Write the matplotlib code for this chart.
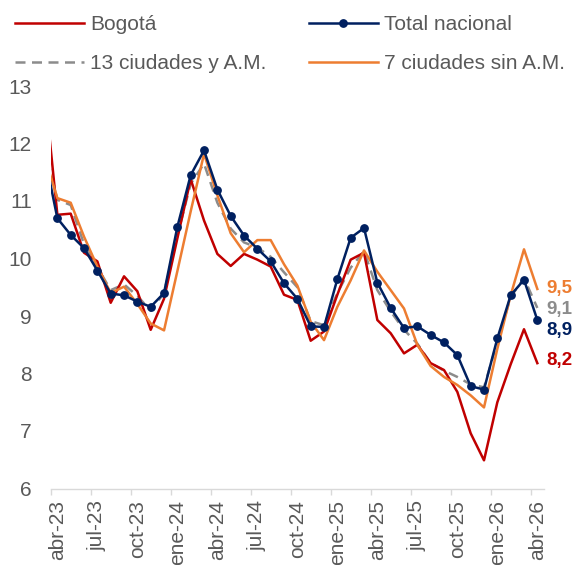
import matplotlib
matplotlib.use('Agg')
import matplotlib.pyplot as plt
from matplotlib.lines import Line2D
import numpy as np

plt.rcParams['font.family'] = ['Liberation Sans', 'DejaVu Sans']

months = ['mar-23', 'abr-23', 'may-23', 'jun-23', 'jul-23', 'ago-23', 'sep-23', 'oct-23',
          'nov-23', 'dic-23', 'ene-24', 'feb-24', 'mar-24', 'abr-24', 'may-24', 'jun-24',
          'jul-24', 'ago-24', 'sep-24', 'oct-24', 'nov-24', 'dic-24', 'ene-25', 'feb-25',
          'mar-25', 'abr-25', 'may-25', 'jun-25', 'jul-25', 'ago-25', 'sep-25', 'oct-25',
          'nov-25', 'dic-25', 'ene-26', 'feb-26', 'mar-26', 'abr-26']

bogota = [13.06, 10.76, 10.78, 10.10, 9.95, 9.23, 9.69, 9.43, 8.76, 9.30, 10.35, 11.38,
          10.66, 10.08, 9.87, 10.08, 9.98, 9.86, 9.37, 9.28, 8.57, 8.73, 9.37, 9.98, 10.10,
          8.93, 8.70, 8.35, 8.50, 8.18, 8.06, 7.68, 6.96, 6.49, 7.50, 8.16, 8.77, 8.18]

total_nacional = [11.84, 10.70, 10.41, 10.18, 9.79, 9.39, 9.36, 9.25, 9.16, 9.40, 10.55,
                  11.45, 11.88, 11.20, 10.74, 10.40, 10.17, 9.95, 9.57, 9.30, 8.82, 8.81,
                  9.64, 10.36, 10.53, 9.58, 9.14, 8.79, 8.82, 8.67, 8.54, 8.32, 7.78, 7.72,
                  8.61, 9.36, 9.63, 8.93]

ciudades13 = [11.98, 11.02, 10.93, 10.25, 9.85, 9.45, 9.55, 9.35, 9.09, 9.40, 10.40, 11.30,
              11.65, 10.97, 10.52, 10.28, 10.19, 10.03, 9.76, 9.50, 8.91, 8.84, 9.40, 9.84,
              10.13, 9.45, 9.08, 8.76, 8.52, 8.18, 8.05, 7.94, 7.81, 7.76, 8.55, 9.33, 9.66,
              9.14]

ciudades7 = [11.81, 11.05, 10.97, 10.38, 9.86, 9.40, 9.51, 9.21, 8.87, 8.75, 9.78, 10.82,
             11.82, 11.10, 10.44, 10.11, 10.32, 10.32, 9.90, 9.53, 8.90, 8.58, 9.16, 9.62,
             10.14, 9.77, 9.45, 9.13, 8.50, 8.13, 7.94, 7.80, 7.62, 7.41, 8.43, 9.36, 10.16,
             9.47]

names = ['Bogotá', 'Total nacional', '13 ciudades y A.M.', '7 ciudades sin A.M.']

RED = '#C00000'
NAVY = '#002060'
GRAY = '#8C8C8C'
ORANGE = '#ED7D31'
TXT = '#595959'
FS = 15

fig = plt.figure(figsize=(5.73, 5.65), dpi=100)
ax = fig.add_axes([50.7 / 573, 1 - 488.5 / 565, (544 - 50.7) / 573, (488.5 - 86) / 565])

x = np.arange(len(months))
lw = 1.8
ax.plot(x, ciudades13, color=GRAY, lw=lw, dashes=(4, 2.6), zorder=2)
ax.plot(x, bogota, color=RED, lw=lw, zorder=3)
ax.plot(x, ciudades7, color=ORANGE, lw=lw, zorder=4)
ax.plot(x, total_nacional, color=NAVY, lw=lw, marker='o', ms=5.3, zorder=5)

ax.set_xlim(0.5, len(months) - 0.5)
ax.set_ylim(6, 13)
ax.set_yticks(range(6, 14))
ax.tick_params(axis='y', length=0, pad=13.5, labelsize=FS, labelcolor=TXT)

lab_idx = list(range(1, len(months), 3))
ax.set_xticks(lab_idx)
ax.set_xticklabels([months[i] for i in lab_idx], rotation=90)
ax.set_xticks([i - 0.5 for i in lab_idx], minor=True)
ax.tick_params(axis='x', which='major', length=0, pad=8.6, labelsize=FS, labelcolor=TXT)
ax.tick_params(axis='x', which='minor', length=4, width=1, color='#D9D9D9')

for s in ['top', 'right', 'left']:
    ax.spines[s].set_visible(False)
ax.spines['bottom'].set_color('#D9D9D9')
ax.spines['bottom'].set_linewidth(1)

# end labels
series = [(ciudades7, ORANGE, 0), (ciudades13, GRAY, -1.8), (total_nacional, NAVY, -10.8), (bogota, RED, 2.2)]
for vals, col, dy in series:
    v = vals[-1]
    ax.annotate(f"{v:.1f}".replace('.', ','), xy=(x[-1], v), xytext=(9.5, dy),
                textcoords='offset pixels', ha='left', va='center', color=col,
                fontsize=13.5, fontweight='bold', annotation_clip=False)

# legend (two columns placed separately)
h_red = Line2D([], [], color=RED, lw=lw)
h_navy = Line2D([], [], color=NAVY, lw=lw, marker='o', ms=5.3)
h_gray = Line2D([], [], color=GRAY, lw=lw, dashes=(4, 2.6))
h_orange = Line2D([], [], color=ORANGE, lw=lw)

common = dict(loc='upper left', frameon=False, fontsize=FS, borderpad=0, borderaxespad=0,
              handlelength=3.3, handletextpad=0.3, labelspacing=0.95, labelcolor=TXT)
leg1 = fig.legend([h_red, h_gray], [names[0], names[2]],
                  bbox_to_anchor=(15 / 573, 1 - 15.5 / 565), **common)
leg2 = fig.legend([h_navy, h_orange], [names[1], names[3]],
                  bbox_to_anchor=(309 / 573, 1 - 15.5 / 565), **common)

fig.savefig('out.png', dpi=100)
